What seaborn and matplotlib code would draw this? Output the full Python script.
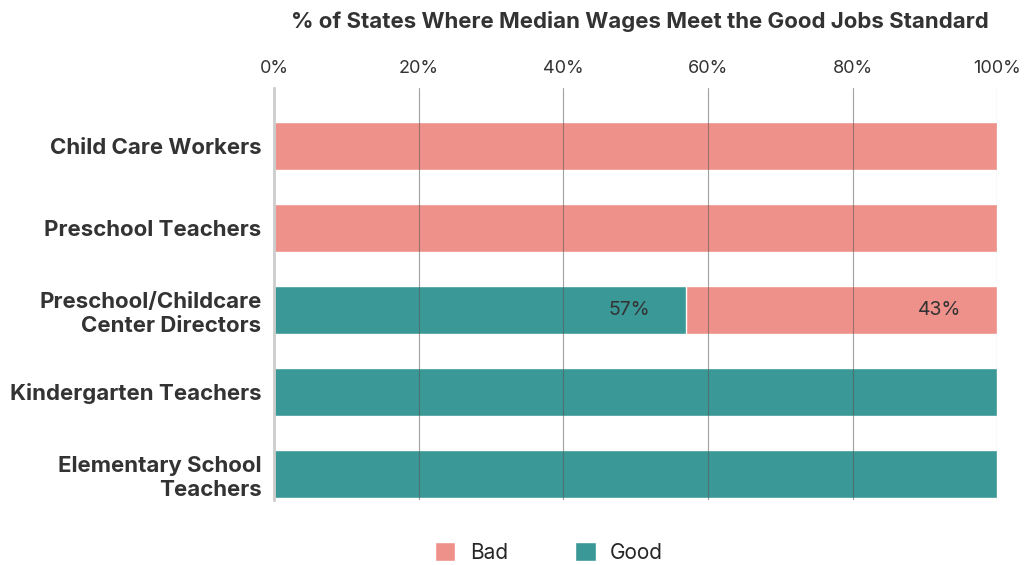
import numpy as np
import pandas as pd
import matplotlib
matplotlib.use("Agg")
import matplotlib.pyplot as plt
import seaborn as sns
from matplotlib.patches import Patch

# dados
ocupacoes = ["Child Care Workers", "Preschool Teachers",
             "Preschool/Childcare\nCenter Directors",
             "Kindergarten Teachers", "Elementary School\nTeachers"]
pct_good = [0, 0, 57, 100, 100]
pct_bad = [100, 100, 43, 0, 0]
ticks = [0, 20, 40, 60, 80, 100]

COR_BAD = "#EE918A"
COR_GOOD = "#3A9896"

sns.set_theme(style="white")
plt.rcParams["font.family"] = ["Inter", "DejaVu Sans"]

df = pd.DataFrame({"ocup": ocupacoes, "good": pct_good, "bad": pct_bad})
df["total"] = df["good"] + df["bad"]

fig = plt.figure(figsize=(10.26, 5.65), dpi=100)
ax = fig.add_axes([0.267, 0.115, 0.705, 0.729])

# empilhado: total (bad) por baixo, good por cima
sns.barplot(data=df, x="total", y="ocup", color=COR_BAD, width=0.585,
            saturation=1, ax=ax, orient="h")
sns.barplot(data=df, x="good", y="ocup", color=COR_GOOD, width=0.585,
            saturation=1, ax=ax, orient="h")

# rótulos de valor
for i, (g, b) in enumerate(zip(pct_good, pct_bad)):
    if 0 < g < 100:
        ax.text(g - 5, i, f"{g}%", ha="right", va="center", fontsize=14,
                color="#333333")
        ax.text(g + b - 5, i, f"{b}%", ha="right", va="center", fontsize=14,
                color="#333333")

ax.set_xlim(0, 100)
ax.set_ylim(4.32, -0.71)
ax.set_xticks(ticks)
ax.set_xticklabels([f"{t}%" for t in ticks], fontsize=13, color="#333333")
ax.xaxis.tick_top()
ax.tick_params(axis="x", length=0, pad=8)
ax.tick_params(axis="y", length=0, pad=9)
for lbl in ax.get_yticklabels():
    lbl.set_fontweight("bold")
    lbl.set_fontsize(16)
    lbl.set_color("#333333")
    lbl.set_multialignment("right")
    lbl.set_linespacing(1.25)
ax.set_xlabel("")
ax.set_ylabel("")

ax.set_axisbelow(False)
ax.grid(axis="x", color="#555555", linewidth=0.8, alpha=0.55)
ax.grid(axis="y", visible=False)
ax.get_xgridlines()[0].set_visible(False)
for s in ["top", "right", "bottom"]:
    ax.spines[s].set_visible(False)
ax.spines["left"].set_color("#cccccc")
ax.spines["left"].set_linewidth(2)

fig.text(0.624, 0.962, "% of States Where Median Wages Meet the Good Jobs Standard",
         ha="center", va="center", fontsize=16, fontweight="bold", color="#333333")

handles = [Patch(facecolor=COR_BAD, label="Bad"), Patch(facecolor=COR_GOOD, label="Good")]
fig.legend(handles=handles, loc="center", bbox_to_anchor=(0.535, 0.022), ncol=2,
           frameon=False, fontsize=15, handlelength=1.0, handleheight=1.0,
           columnspacing=3.2, handletextpad=0.7)

fig.savefig("out.png", dpi=100)
